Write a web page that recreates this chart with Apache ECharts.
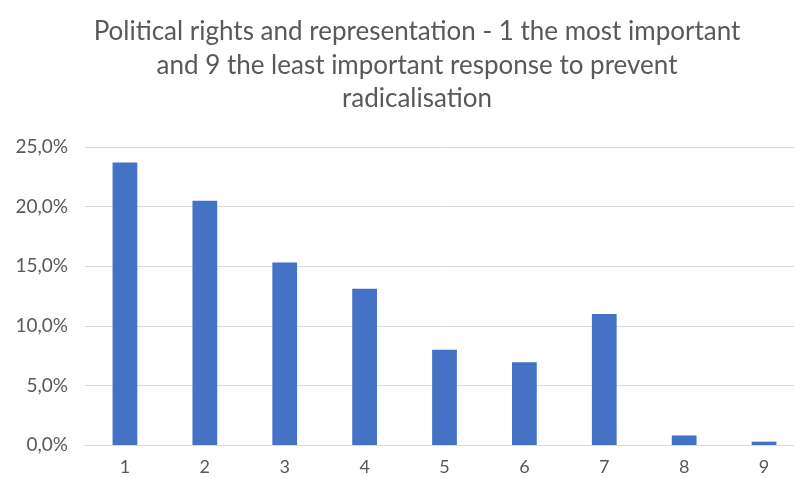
<!DOCTYPE html>
<html><head><meta charset="utf-8">
<script src="https://cdn.jsdelivr.net/npm/echarts@6/dist/echarts.min.js"></script>
<style>html,body{margin:0;padding:0;background:#fff;overflow:hidden}#c{width:804px;height:478px}</style>
</head><body><div id="c"></div>
<script>
const categories = ['1','2','3','4','5','6','7','8','9'];
const values = [23.7, 20.5, 15.3, 13.1, 8.0, 6.95, 11.0, 0.8, 0.28];
const yTicks = [0, 5, 10, 15, 20, 25];
const titleText = 'Political rights and representation - 1 the most important\nand 9 the least important response to prevent\nradicalisation';

const chart = echarts.init(document.getElementById('c'));
chart.setOption({
  animation: false,
  title: {
    text: titleText,
    left: 412, top: 10, textAlign: 'center',
    textStyle: { fontFamily: 'Lato', fontSize: 26, fontWeight: 'normal', color: '#595959', lineHeight: 33.5 }
  },
  grid: { left: 85, top: 147, right: 0, height: 298 },
  xAxis: {
    type: 'category', data: categories,
    axisLine: { show: true, lineStyle: { color: '#d9d9d9' } },
    axisTick: { show: false },
    axisLabel: { color: '#595959', fontFamily: 'Lato', fontSize: 18, margin: 13 }
  },
  yAxis: {
    type: 'value', min: yTicks[0], max: yTicks[yTicks.length-1], interval: 5,
    axisLine: { show: false }, axisTick: { show: false },
    splitLine: { lineStyle: { color: '#d9d9d9' } },
    axisLabel: { color: '#595959', fontFamily: 'Lato', fontSize: 19, margin: 17,
      formatter: v => v.toFixed(1).replace('.', ',') + '%' }
  },
  series: [{
    type: 'bar', data: values, barWidth: '31%',
    itemStyle: { color: '#4472C4' }
  }]
});
</script></body></html>
